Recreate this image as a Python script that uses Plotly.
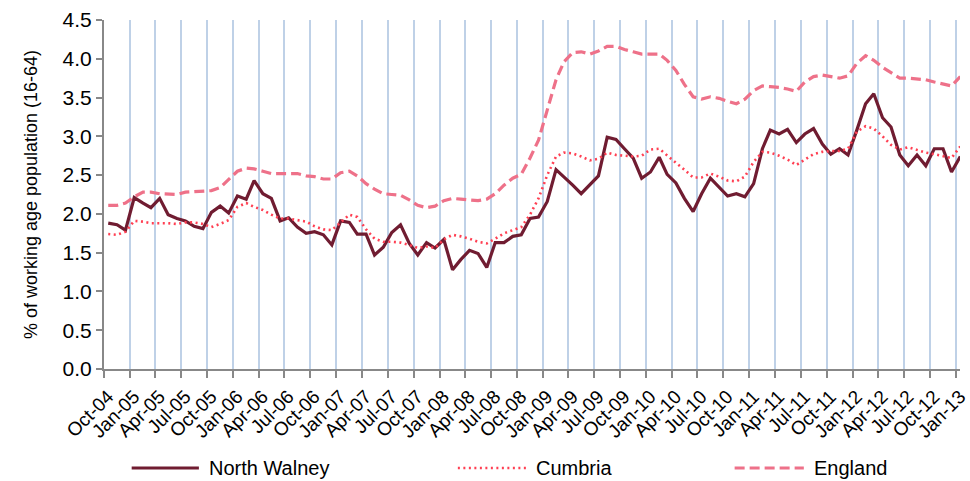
import pandas as pd
import plotly.graph_objects as go

# Monthly observations, Oct-04 .. Jan-13 (plotted mid-month)
months = pd.date_range("2004-10-01", periods=100, freq="MS") + pd.Timedelta(days=15)

north_walney = [
    1.88, 1.86, 1.79, 2.21, 2.14, 2.08, 2.20, 1.99, 1.94, 1.91, 1.84, 1.81,
    2.02, 2.10, 2.01, 2.23, 2.19, 2.43, 2.26, 2.20, 1.91, 1.95, 1.83, 1.75,
    1.77, 1.73, 1.60, 1.91, 1.89, 1.74, 1.74, 1.47, 1.57, 1.76, 1.86, 1.62,
    1.47, 1.63, 1.56, 1.67, 1.28, 1.41, 1.53, 1.49, 1.31, 1.63, 1.63, 1.71,
    1.73, 1.94, 1.96, 2.16, 2.57, 2.48, 2.37, 2.26, 2.37, 2.49, 2.99, 2.96,
    2.84, 2.72, 2.46, 2.54, 2.73, 2.51, 2.40, 2.20, 2.03, 2.26, 2.46, 2.35,
    2.23, 2.26, 2.22, 2.39, 2.84, 3.08, 3.03, 3.09, 2.92, 3.03, 3.10, 2.90,
    2.77, 2.84, 2.76, 3.08, 3.42, 3.55, 3.24, 3.12, 2.76, 2.62, 2.76, 2.62,
    2.84, 2.84, 2.54, 2.74,
]

cumbria = [
    1.74, 1.73, 1.77, 1.91, 1.90, 1.88, 1.88, 1.88, 1.87, 1.89, 1.89, 1.87,
    1.83, 1.87, 1.92, 2.09, 2.14, 2.09, 2.05, 1.99, 1.94, 1.94, 1.92, 1.90,
    1.84, 1.80, 1.79, 1.89, 1.99, 1.96, 1.80, 1.68, 1.64, 1.64, 1.63, 1.60,
    1.56, 1.58, 1.56, 1.67, 1.73, 1.71, 1.68, 1.64, 1.62, 1.68, 1.75, 1.79,
    1.83, 1.99, 2.20, 2.50, 2.74, 2.79, 2.78, 2.74, 2.69, 2.71, 2.79, 2.76,
    2.75, 2.74, 2.75, 2.83, 2.84, 2.76, 2.66, 2.57, 2.47, 2.47, 2.52, 2.48,
    2.43, 2.42, 2.48, 2.67, 2.80, 2.79, 2.75, 2.70, 2.63, 2.70, 2.77, 2.80,
    2.81, 2.81, 2.84, 3.06, 3.13, 3.10, 3.00, 2.89, 2.83, 2.86, 2.82, 2.79,
    2.77, 2.74, 2.72, 2.87,
]

england = [
    2.11, 2.11, 2.14, 2.22, 2.28, 2.28, 2.26, 2.26, 2.25, 2.28, 2.29, 2.29,
    2.30, 2.34, 2.44, 2.55, 2.59, 2.58, 2.55, 2.52, 2.52, 2.52, 2.52, 2.49,
    2.48, 2.45, 2.45, 2.53, 2.55, 2.49, 2.39, 2.32, 2.26, 2.25, 2.24, 2.18,
    2.11, 2.08, 2.10, 2.17, 2.20, 2.19, 2.18, 2.17, 2.19, 2.26, 2.37, 2.46,
    2.51, 2.72, 2.95, 3.34, 3.73, 3.96, 4.08, 4.09, 4.06, 4.10, 4.16, 4.16,
    4.12, 4.09, 4.06, 4.06, 4.06, 3.98, 3.85, 3.67, 3.51, 3.48, 3.51, 3.49,
    3.45, 3.42, 3.48, 3.59, 3.65, 3.64, 3.63, 3.61, 3.58, 3.70, 3.77, 3.79,
    3.77, 3.75, 3.78, 3.94, 4.04, 3.98, 3.89, 3.82, 3.75, 3.75, 3.74, 3.73,
    3.70, 3.68, 3.65, 3.77,
]

# Quarterly tick labels along the date axis
tick_labels = [
    "Oct-04", "Jan-05", "Apr-05", "Jul-05", "Oct-05", "Jan-06", "Apr-06",
    "Jul-06", "Oct-06", "Jan-07", "Apr-07", "Jul-07", "Oct-07", "Jan-08",
    "Apr-08", "Jul-08", "Oct-08", "Jan-09", "Apr-09", "Jul-09", "Oct-09",
    "Jan-10", "Apr-10", "Jul-10", "Oct-10", "Jan-11", "Apr-11", "Jul-11",
    "Oct-11", "Jan-12", "Apr-12", "Jul-12", "Oct-12", "Jan-13",
]
tick_dates = pd.date_range("2004-10-01", periods=len(tick_labels), freq="3MS")

series = [
    ("North Walney", north_walney, "#701C31", None, 3.2),
    ("Cumbria", cumbria, "#FF3F52", "2px,3.5px", 2.6),
    ("England", england, "#EE7189", "10px,5px", 3.2),
]

FONT = "Liberation Sans, Arial, sans-serif"

fig = go.Figure()
for name, values, color, dash, width in series:
    line = dict(color=color, width=width)
    if dash:
        line["dash"] = dash
    fig.add_trace(go.Scatter(x=months, y=values, mode="lines", name=name,
                             line=line, showlegend=False))

fig.update_layout(
    width=970, height=481,
    margin=dict(l=104, r=0, t=20, b=112),
    paper_bgcolor="white", plot_bgcolor="white",
    font=dict(family=FONT, color="black"),
)

fig.update_xaxes(
    type="date",
    range=["2004-10-01", "2013-01-15"],
    tickmode="array", tickvals=tick_dates, ticktext=tick_labels,
    tickangle=-45, tickfont=dict(size=19, color="black"),
    ticklabelshift=4, ticklabeloverflow="allow",
    showgrid=True, gridcolor="#BFD1E7", gridwidth=2,
    showline=True, linecolor="#888888", linewidth=2,
    ticks="outside", ticklen=7, tickwidth=1.5, tickcolor="#888888",
    zeroline=False,
)

fig.update_yaxes(
    range=[0, 4.5], dtick=0.5, tick0=0, tickformat=".1f",
    tickfont=dict(size=21, color="black"),
    showgrid=False, zeroline=False,
    showline=True, linecolor="#888888", linewidth=2,
    ticks="outside", ticklen=6, tickwidth=1.5, tickcolor="#888888",
    title=dict(text="% of working age population (16-64)",
               font=dict(size=18, color="black"), standoff=20),
)

# Legend row beneath the axis: long line keys with labels
plot_w = 970 - 104
plot_h = 369 - 20


def px_x(px):
    return (px - 104) / plot_w


def px_y(py):
    return (369 - py) / plot_h


legend_y = 468
legend_slots = [(132, 200, 208), (462, 532, 539), (742, 812, 820)]
for (name, _, color, dash, width), (x0, x1, xt) in zip(series, legend_slots):
    line = dict(color=color, width=width)
    if dash:
        line["dash"] = dash
    fig.add_shape(type="line", xref="paper", yref="paper",
                  x0=px_x(x0), x1=px_x(x1), y0=px_y(legend_y), y1=px_y(legend_y),
                  line=line)
    fig.add_annotation(xref="paper", yref="paper", x=px_x(xt), y=px_y(legend_y),
                       text=name, showarrow=False, xanchor="left", yanchor="middle",
                       font=dict(size=20, color="black", family=FONT))

fig.write_html("out.html")
